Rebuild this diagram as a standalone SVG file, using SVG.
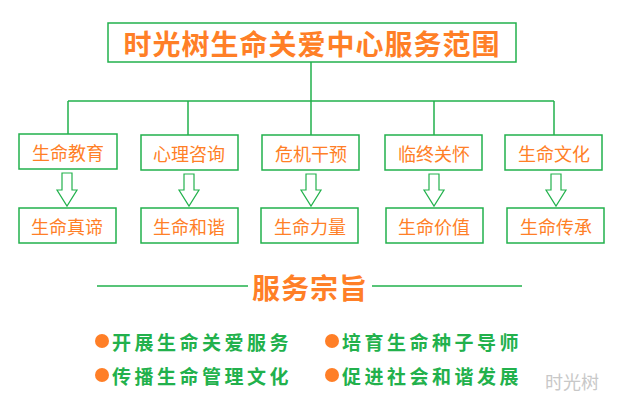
<svg xmlns="http://www.w3.org/2000/svg" width="620" height="410" viewBox="0 0 620 410">
<style>
.box{fill:#fff;stroke:#22b14c;stroke-width:1.5}
.ln{stroke:#22b14c;stroke-width:1.5;fill:none}
.arr{fill:#fff;stroke:#22b14c;stroke-width:1.2}
.t{font-family:"Noto Sans CJK SC",sans-serif;fill:#ff7f27;font-size:18px;text-anchor:middle;dominant-baseline:central}
.h{font-family:"Noto Sans CJK SC",sans-serif;fill:#ff7f27;font-size:28px;font-weight:bold;text-anchor:middle;dominant-baseline:central;letter-spacing:1px}
.g{font-family:"Noto Sans CJK SC",sans-serif;fill:#22b14c;font-size:19px;font-weight:bold;dominant-baseline:central;letter-spacing:3.5px}
</style>
<rect width="620" height="410" fill="#fff"/>
<g id="connectors">
<path class="ln" d="M311 62V101M68 101H554M68 101V135M188 101V135M311 101V135M434 101V135M554 101V135"/>
<path class="arr" d="M62 173H72V190H77L67 206L57 190H62Z"/>
<path class="arr" d="M184 174H194V190H199L189 206L179 190H184Z"/>
<path class="arr" d="M306 174H316V190H321L311 206L301 190H306Z"/>
<path class="arr" d="M429 174H439V190H444L434 206L424 190H429Z"/>
<path class="arr" d="M551 174H561V190H566L556 206L546 190H551Z"/>
<path class="ln" d="M97 286H248M372 286H522"/>
</g>
<g id="title"><rect class="box" x="108" y="23" width="408" height="39"/><text class="h" x="312" y="43">时光树生命关爱中心服务范围</text></g>
<g id="n1"><rect class="box" x="19" y="134" width="98" height="35"/><text class="t" x="68" y="152">生命教育</text></g>
<g id="n2"><rect class="box" x="141" y="135" width="97" height="35"/><text class="t" x="189" y="153">心理咨询</text></g>
<g id="n3"><rect class="box" x="262" y="135" width="97" height="35"/><text class="t" x="311" y="153">危机干预</text></g>
<g id="n4"><rect class="box" x="385" y="135" width="97" height="35"/><text class="t" x="434" y="153">临终关怀</text></g>
<g id="n5"><rect class="box" x="505" y="135" width="97" height="35"/><text class="t" x="554" y="153">生命文化</text></g>
<g id="m1"><rect class="box" x="19" y="208" width="97" height="35"/><text class="t" x="67" y="226">生命真谛</text></g>
<g id="m2"><rect class="box" x="141" y="208" width="97" height="35"/><text class="t" x="189" y="226">生命和谐</text></g>
<g id="m3"><rect class="box" x="261" y="208" width="97" height="35"/><text class="t" x="310" y="226">生命力量</text></g>
<g id="m4"><rect class="box" x="386" y="208" width="97" height="35"/><text class="t" x="434" y="226">生命价值</text></g>
<g id="m5"><rect class="box" x="507" y="208" width="97" height="35"/><text class="t" x="556" y="226">生命传承</text></g>
<g id="aims">
<text class="h" x="310" y="287">服务宗旨</text>
<circle cx="102" cy="341" r="7" fill="#ff7f27"/><text class="g" x="112" y="341">开展生命关爱服务</text>
<circle cx="332" cy="341" r="7" fill="#ff7f27"/><text class="g" x="342" y="341">培育生命种子导师</text>
<circle cx="102" cy="375" r="7" fill="#ff7f27"/><text class="g" x="112" y="375">传播生命管理文化</text>
<circle cx="332" cy="375" r="7" fill="#ff7f27"/><text class="g" x="342" y="375">促进社会和谐发展</text>
<text x="545" y="381" font-family="Noto Sans CJK SC,sans-serif" font-size="18" fill="#c8c8c8" dominant-baseline="central">时光树</text>
</g>
</svg>
